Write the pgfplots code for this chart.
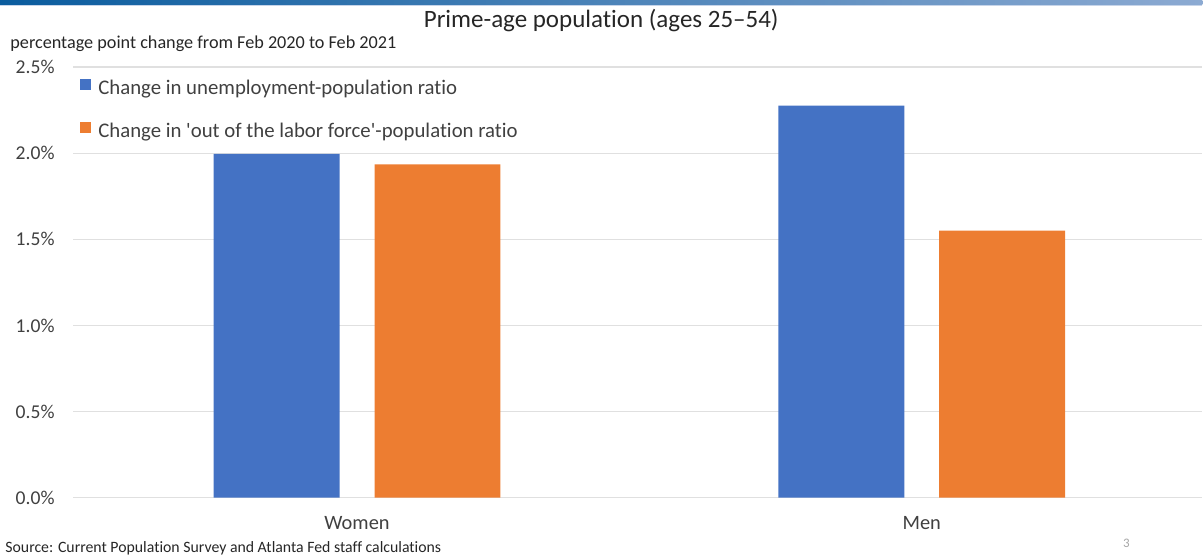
\documentclass[border=0pt]{standalone}
\usepackage{fontspec}
\setmainfont{Carlito}[Ligatures={TeXOff,NoCommon}]
\usepackage{pgfplots}
\pgfplotsset{compat=1.18}
\definecolor{cblue}{HTML}{4472C4}
\definecolor{corange}{HTML}{ED7D31}
\definecolor{txt}{HTML}{404040}
\definecolor{gridc}{HTML}{E0E0E0}
\definecolor{barL}{HTML}{0A5C9E}
\definecolor{barR}{HTML}{8CAAD2}
\begin{document}
\begin{tikzpicture}
\begin{scope}[x=0.5pt,y=0.5pt]
\path[use as bounding box] (0,0) rectangle (1203,556);
\shade[left color=barL, right color=barR] (0,551) rectangle (1203,556);
\fill[barR!50] (0,549.5) rectangle (1203,551);
\node[anchor=base, text=black!85, font=\fontsize{12.5}{14}\selectfont] at (601.5,528) {Prime-age population (ages 25–54)};
\node[anchor=base west, inner sep=0pt, text=black!85, font=\fontsize{9.1}{11}\selectfont] at (10,507) {percentage point change from Feb 2020 to Feb 2021};
\node[anchor=base west, inner sep=0pt, text=black!85, font=\fontsize{7.9}{9}\selectfont] at (5,3) {Source: Current Population Survey and Atlanta Fed staff calculations};
\node[text=black!35, font=\fontsize{6.5}{8}\selectfont] at (1127,12) {3};
\end{scope}
\begin{axis}[
  at={(36.5pt,29pt)}, anchor=south west,
  scale only axis, width=565pt, height=215.5pt,
  ybar=17.5pt, bar width=63pt,
  xmin=-0.503, xmax=1.497, ymin=0, ymax=2.5,
  xtick={0,1}, xticklabels={Women,Men},
  ytick={0,0.5,1,1.5,2,2.5},
  yticklabels={0.0\%,0.5\%,1.0\%,1.5\%,2.0\%,2.5\%},
  axis line style={draw=none}, major tick length=0pt,
  ymajorgrids, grid style={gridc, line width=0.6pt},
  tick label style={font=\fontsize{9.8}{12}\selectfont, text=txt},
  xticklabel style={anchor=base, yshift=-16pt, font=\fontsize{10.2}{12}\selectfont},
  yticklabel style={xshift=-5.7pt},
  legend cell align=left,
  legend style={draw=none, fill=none, inner sep=0pt,
    at={(axis description cs:0,1)}, anchor=north west, xshift=3.5pt, yshift=-6pt,
    font=\fontsize{10.4}{12}\selectfont, text=txt, row sep=12pt,
    nodes={inner sep=0pt, text height=7pt, text depth=2pt},
    /tikz/every odd column/.append style={column sep=3.5pt}},
  legend image code/.code={\fill[#1] (0pt,-0.5pt) rectangle (5.5pt,5pt);},
]
\addplot[fill=cblue, draw=none] coordinates {(0,1.995) (1,2.275)};
\addplot[fill=corange, draw=none] coordinates {(0,1.935) (1,1.55)};
\legend{Change in unemployment-population ratio, Change in 'out of the labor force'-population ratio}
\end{axis}
\end{tikzpicture}
\end{document}
